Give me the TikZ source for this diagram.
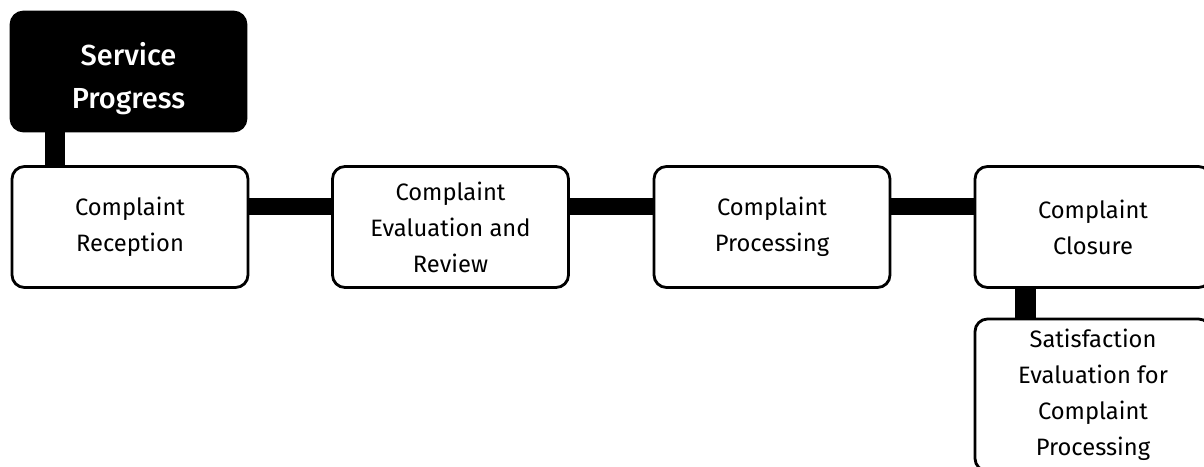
\documentclass[tikz,border=0pt]{standalone}
\usepackage{fontspec}
\setmainfont{Fira Sans}
\newfontfamily\medfont{Fira Sans Medium}
\usepackage{tikz}
\usetikzlibrary{calc}

\begin{document}
\begin{tikzpicture}[
		box/.style = {draw, line width=1.6pt, rounded corners=0.25cm,
			minimum width=4.72cm, minimum height=2.42cm, align=center,
			font=\fontsize{13.5}{20.5}\selectfont
		},
		bar/.style = {line width=0.34cm},
		]
		\useasboundingbox (0,0) rectangle (24.08,-9.32);
		\node[box, fill=black, text=white, minimum width=4.70cm, minimum height=2.38cm,
			font=\medfont\fontsize{16.5}{24.5}\selectfont] (srv) at (2.57,-1.43) {\rule{0pt}{0.75cm}Service\\Progress};
		\foreach \n/\x/\t in {rec/2.60/{Complaint\\Reception}, eva/9.01/{Complaint\\Evaluation and\\Review},
			pro/15.44/{Complaint\\Processing}, clo/21.86/{Complaint\\Closure}}
		{
			\node[box] (\n) at (\x,-4.54) {\t};
		};
		\node[box, minimum height=3.04cm] (sat) at (21.86,-7.90) {Satisfaction\\Evaluation for\\Complaint\\Processing};
		% links between the steps
		\foreach \a/\b in {rec/eva, eva/pro, pro/clo}
		{
			\draw[bar] ([yshift=0.42cm]\a.east) -- ([yshift=0.42cm]\b.west);
		};
		\draw[bar, line width=0.40cm] ([xshift=-1.47cm]srv.south) -- ([xshift=-1.47cm]srv.south |- rec.north);
		\draw[bar, line width=0.41cm] ([xshift=-1.35cm]clo.south) -- ([xshift=-1.35cm]clo.south |- sat.north);
	\end{tikzpicture}
\end{document}
